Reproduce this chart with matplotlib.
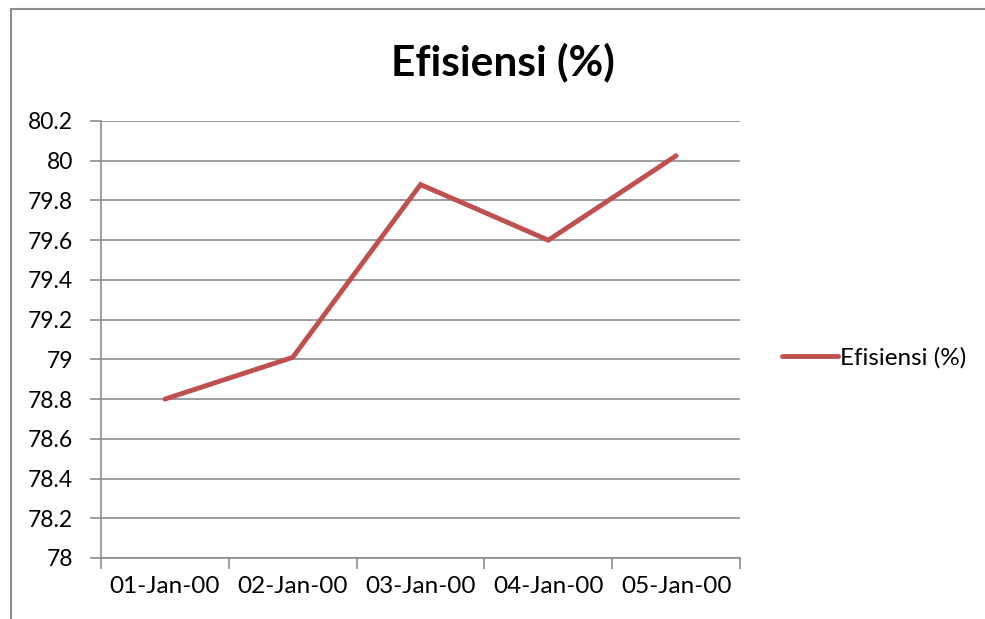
import matplotlib
matplotlib.use("Agg")
import matplotlib.pyplot as plt
from matplotlib.patches import Rectangle

categories = ["01-Jan-00", "02-Jan-00", "03-Jan-00", "04-Jan-00", "05-Jan-00"]
efisiensi = [78.80, 79.01, 79.88, 79.60, 80.025]
yticks = [78, 78.2, 78.4, 78.6, 78.8, 79, 79.2, 79.4, 79.6, 79.8, 80, 80.2]
ytick_labels = ["78", "78.2", "78.4", "78.6", "78.8", "79", "79.2", "79.4", "79.6", "79.8", "80", "80.2"]

plt.rcParams['font.family'] = ['Lato', 'DejaVu Sans']

W, H = 985, 619
fig = plt.figure(figsize=(W/100, H/100), dpi=100)
fig.patch.set_facecolor("white")

# chart border
fig.add_artist(Rectangle((11/W, -0.01), 1.1, 1 - 9/H + 0.01, transform=fig.transFigure,
                         fill=False, edgecolor="#8c8c8c", linewidth=1.5))

ax = fig.add_axes([101/W, 1 - 558/H, (740-101)/W, (558-121)/H])
x = list(range(len(categories)))
line, = ax.plot(x, efisiensi, color="#C0504D", linewidth=3.5, label="Efisiensi (%)",
                solid_capstyle="round", solid_joinstyle="miter")
ax.set_xlim(-0.5, len(categories) - 0.5)
ax.set_ylim(78, 80.2)
ax.set_yticks(yticks)
ax.set_yticklabels(ytick_labels)
ax.set_xticks([i - 0.5 for i in range(len(categories) + 1)], minor=False)
ax.set_xticklabels([])
ax.set_xticks(x, minor=True)
ax.set_xticklabels(categories, minor=True)
ax.tick_params(axis="x", which="minor", length=0, pad=13, labelsize=17.5)
ax.tick_params(axis="x", which="major", length=8, color="#8c8c8c", width=1.2)
ax.tick_params(axis="y", length=8, color="#8c8c8c", width=1.2, labelsize=16.5, pad=12)
ax.grid(axis="y", color="#8c8c8c", linewidth=1.2)
ax.set_axisbelow(True)
for s in ["top", "right"]:
    ax.spines[s].set_visible(False)
for s in ["left", "bottom"]:
    ax.spines[s].set_color("#8c8c8c")
    ax.spines[s].set_linewidth(1.2)

fig.text(503/W, 1 - 62/H, "Efisiensi (%)", ha="center", va="center",
         fontsize=30.5, fontweight="bold")

fig.legend(handles=[line], loc="center left", bbox_to_anchor=(760/W, 1 - 358/H),
           frameon=False, fontsize=17.5, handlelength=2.3, handletextpad=0.1)

fig.savefig("out.png", dpi=100, facecolor="white")
